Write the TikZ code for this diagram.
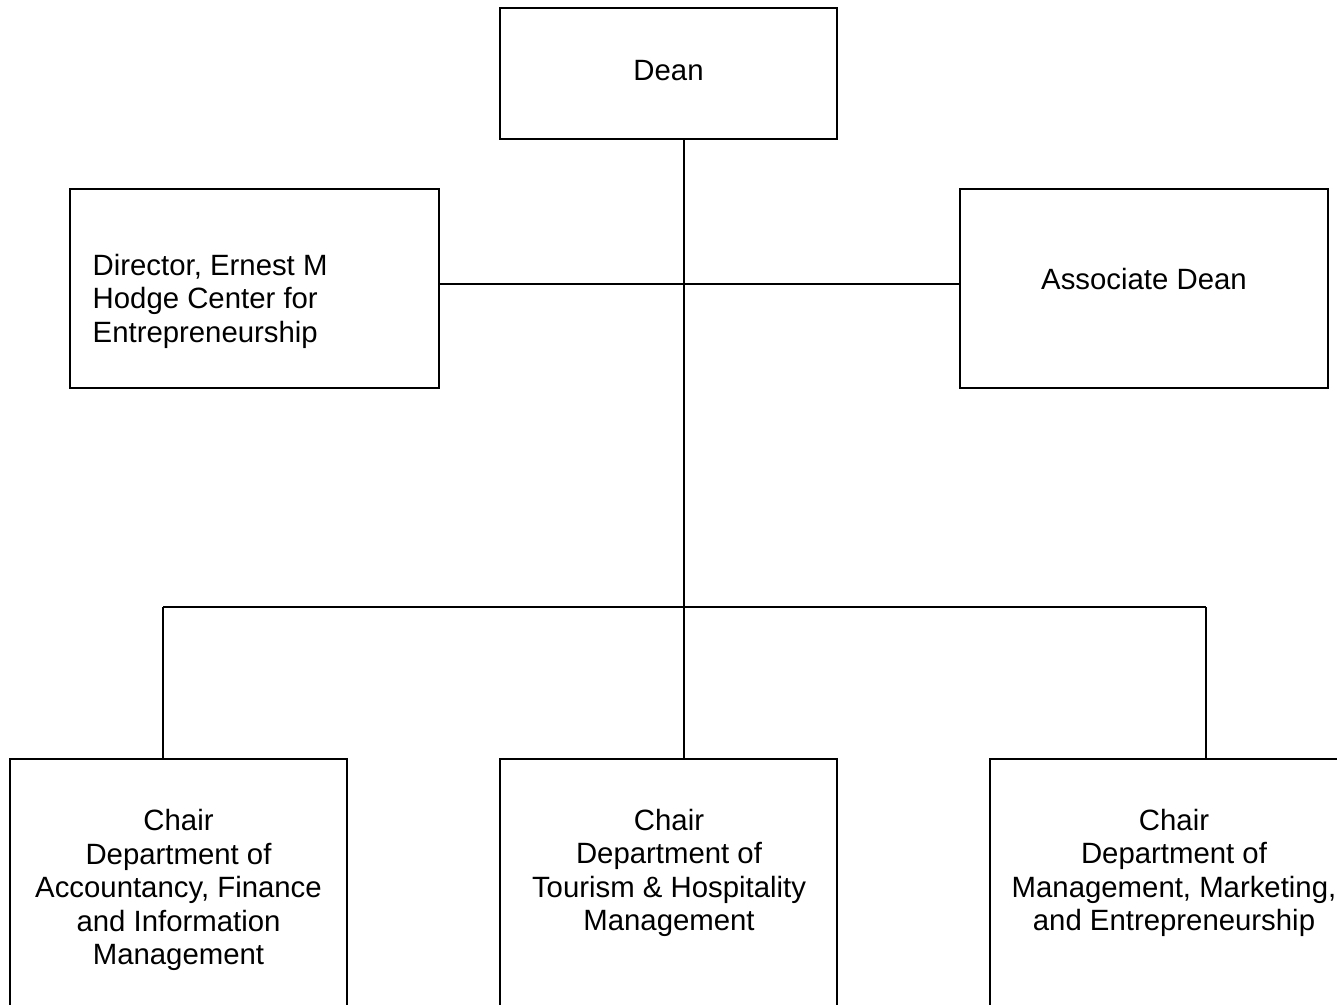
\documentclass[tikz,border=0pt]{standalone}
\usepackage{fontspec}
\setmainfont{Liberation Sans}
\begin{document}
\begin{tikzpicture}[
  box/.style={draw=black, line width=0.65pt, fill=white, inner sep=0pt},
  txt/.style={inner sep=0pt, font=\fontsize{8.35}{9.55}\selectfont},
  conn/.style={draw=black, line width=0.6pt}
]
\useasboundingbox (0,0) rectangle (13.37,-10.04);
\clip (0,0) rectangle (13.37,-10.04);
% connector coordinates
\coordinate (j1) at (6.84,-2.84);
\coordinate (j2) at (6.84,-6.07);
\coordinate (l) at (1.63,-6.07);
\coordinate (r) at (12.06,-6.07);
% boxes
\node[box, minimum width=3.37cm, minimum height=1.31cm] (dean) at (6.685,-0.735) {};
\node[box, minimum width=3.69cm, minimum height=1.99cm] (dir) at (2.545,-2.885) {};
\node[box, minimum width=3.68cm, minimum height=1.99cm] (assoc) at (11.44,-2.885) {};
\node[box, minimum width=3.37cm, minimum height=3cm, anchor=north] (c1) at (1.785,-7.58) {};
\node[box, minimum width=3.37cm, minimum height=3cm, anchor=north] (c2) at (6.685,-7.58) {};
\node[box, minimum width=3.6cm, minimum height=3cm, anchor=north] (c3) at (11.70,-7.58) {};
% connectors
\draw[conn] (dean.south -| j1) -- (j2);
\draw[conn] (dir.east |- j1) -- (assoc.west |- j1);
\draw[conn] (l) -- (r);
\draw[conn] (l) -- (l |- c1.north);
\draw[conn] (j2) -- (j2 |- c2.north);
\draw[conn] (r) -- (r |- c3.north);
% texts
\node[txt] (deant) at (6.685,-0.705) {Dean};
\node[txt, anchor=west, align=left] (dirt) at (0.92,-3.01) {Director, Ernest M\\Hodge Center for\\Entrepreneurship};
\node[txt] (assoct) at (11.44,-2.79) {Associate Dean};
\node[txt, align=center] (c1t) at (1.785,-8.90) {Chair\\Department of\\Accountancy, Finance\\and Information\\Management};
\node[txt, align=center] (c2t) at (6.69,-8.73) {Chair\\Department of\\Tourism \& Hospitality\\Management};
\node[txt, align=center] (c3t) at (11.74,-8.73) {Chair\\Department of\\Management, Marketing,\\and Entrepreneurship};
\end{tikzpicture}
\end{document}
